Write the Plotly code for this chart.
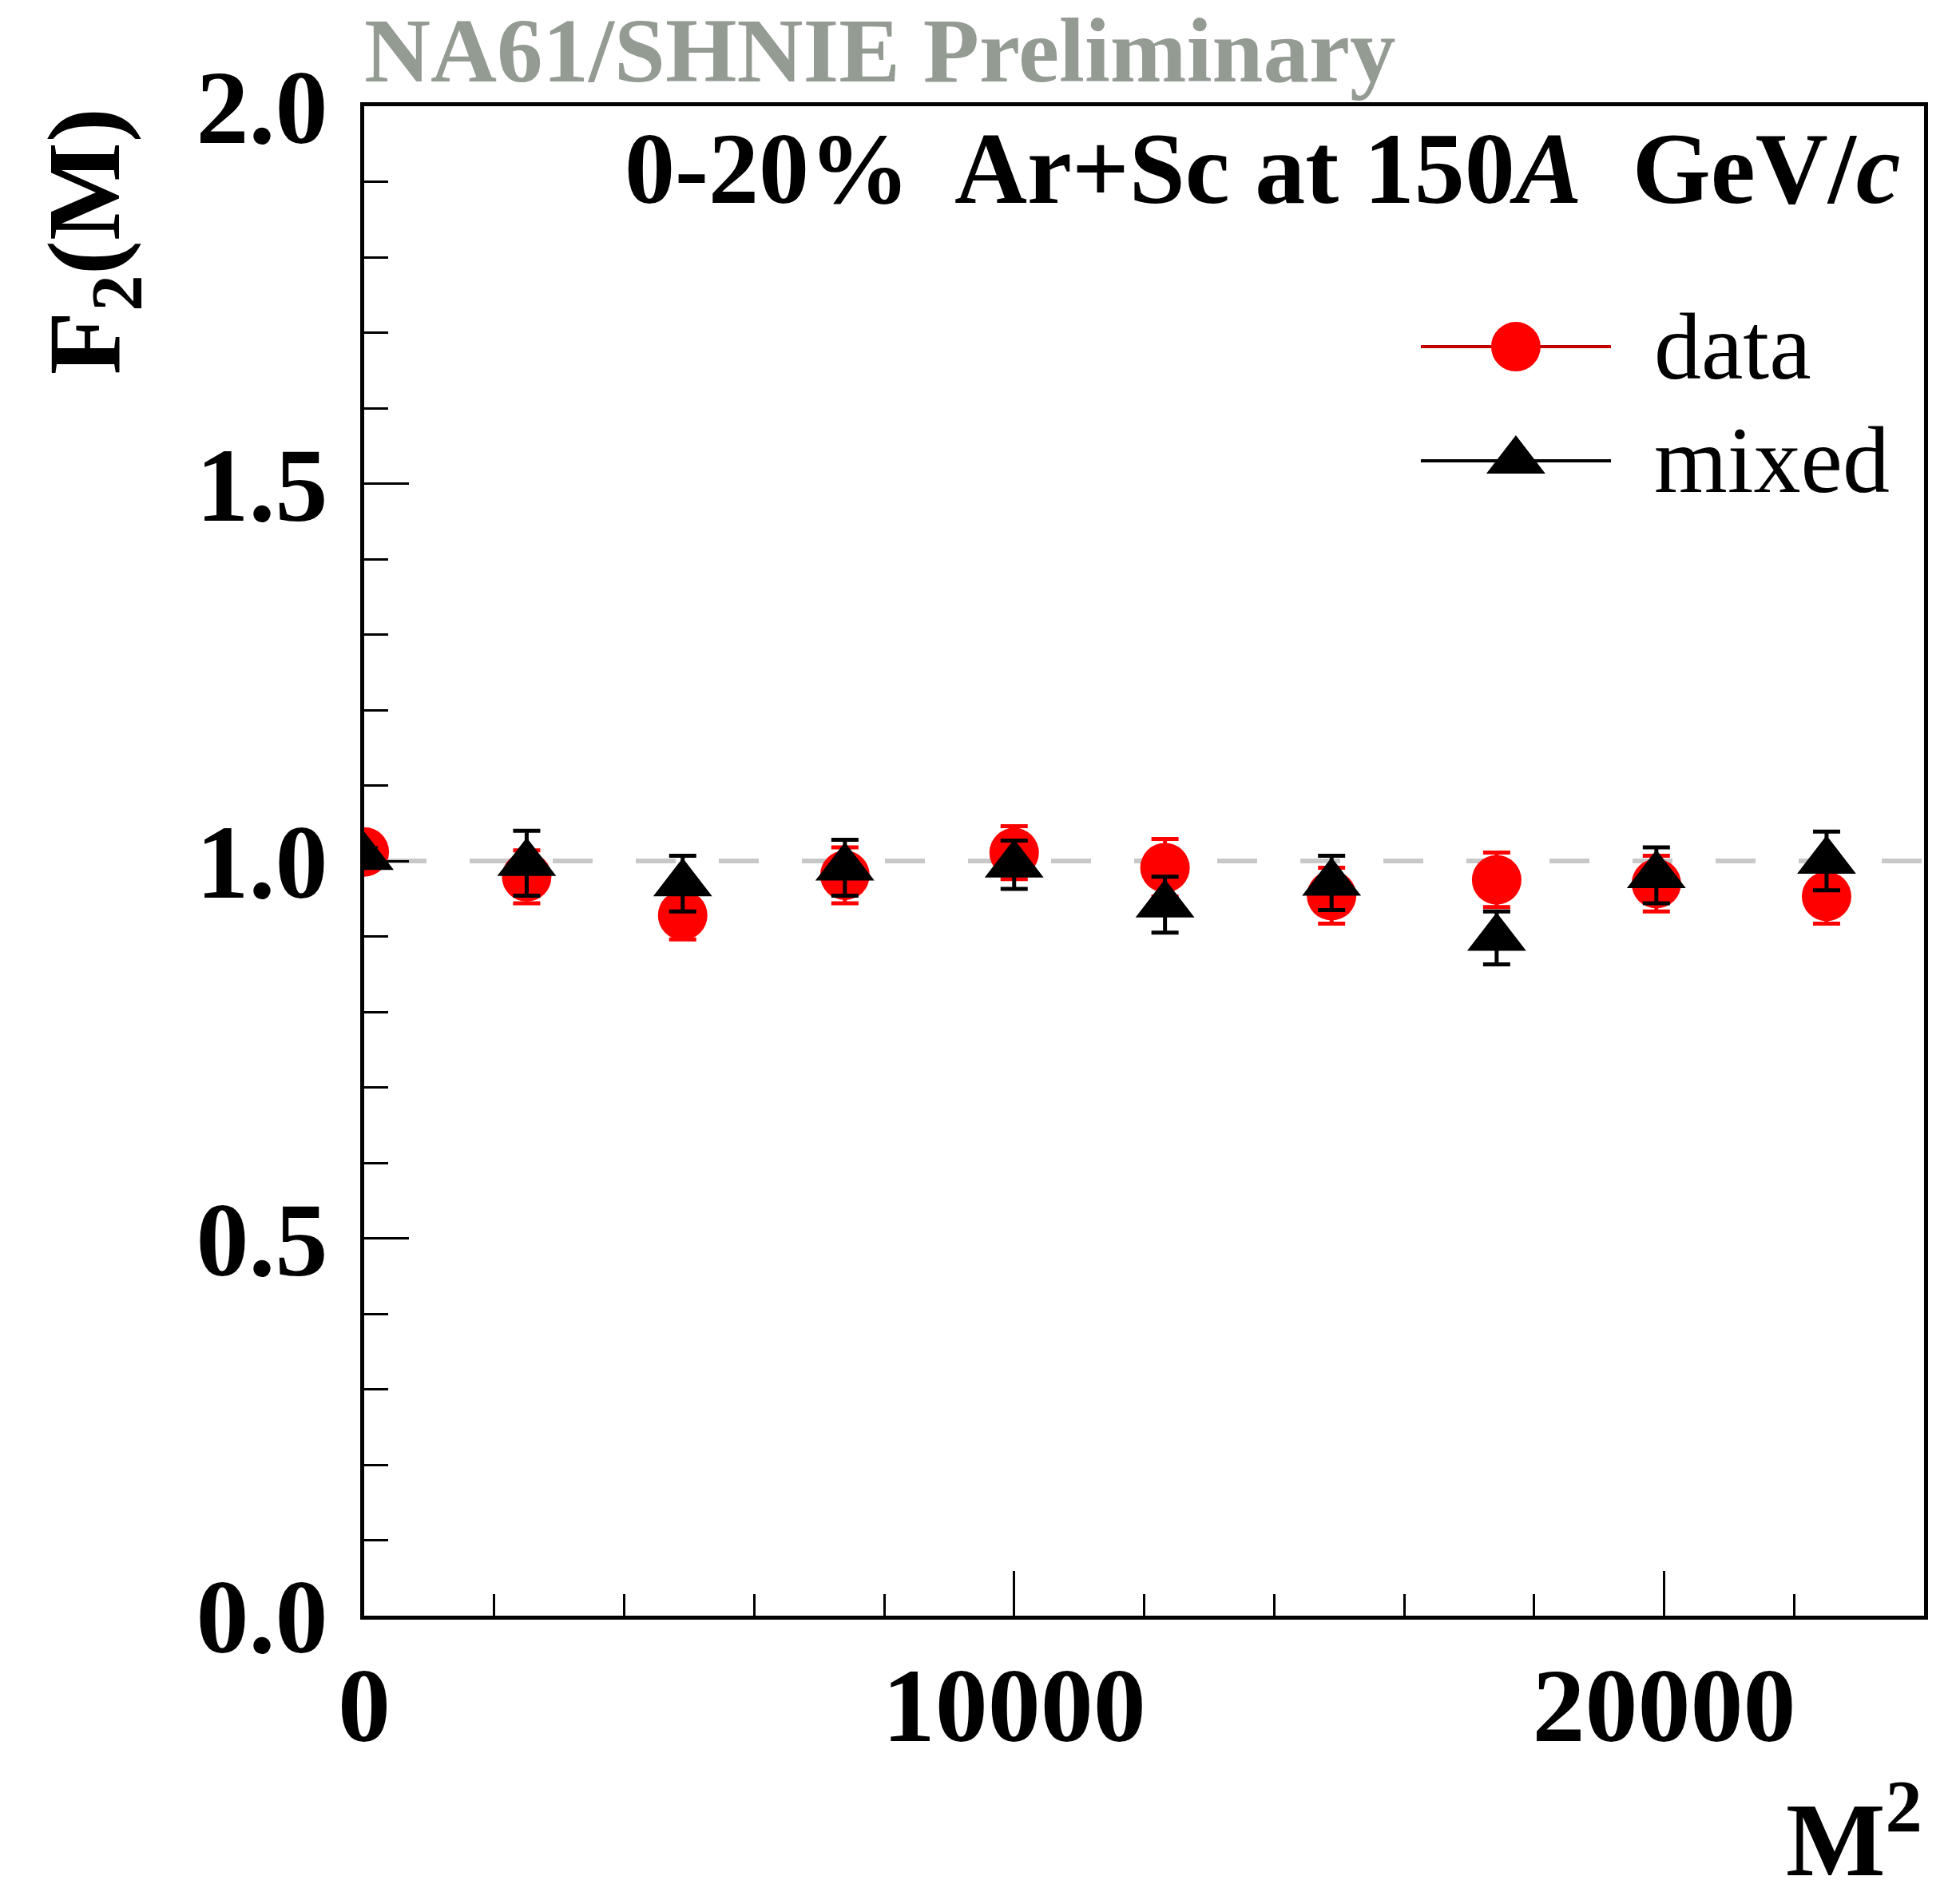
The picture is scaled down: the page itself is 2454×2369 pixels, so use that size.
import plotly.graph_objects as go

# ---- data ----
m2 = [1, 2500, 4900, 7396, 10000, 12321, 14884, 17424, 19881, 22500]
data_f2 = [1.012, 0.979, 0.928, 0.981, 1.011, 0.991, 0.954, 0.975, 0.970, 0.953]
data_err = [0.012, 0.035, 0.032, 0.037, 0.035, 0.038, 0.037, 0.036, 0.037, 0.036]
mixed_f2 = [1.005, 0.997, 0.970, 0.991, 0.995, 0.942, 0.971, 0.898, 0.981, 1.000]
mixed_err = [0.012, 0.043, 0.037, 0.037, 0.032, 0.037, 0.036, 0.035, 0.037, 0.039]

x_range = [0, 24000]
y_range = [0, 2.0]
x_tickvals = [0, 10000, 20000]
x_ticktext = ["0", "10000", "20000"]
y_tickvals = [0.0, 0.5, 1.0, 1.5, 2.0]
y_ticktext = ["0.0", "0.5", "1.0", "1.5", "2.0"]
reference_level = 1.0

legend_names = ["data", "mixed"]

W, H = 2454, 2369
L, R, T, B = 456, 45, 133, 346
FONT = "Liberation Serif"

fig = go.Figure()

fig.add_trace(go.Scatter(
    x=m2, y=data_f2, mode="markers", name="data",
    marker=dict(symbol="circle", size=62, color="#ff0000", opacity=1, line=dict(width=0)),
    error_y=dict(type="data", array=data_err, color="#ff0000", thickness=5, width=17),
    showlegend=False,
))
fig.add_trace(go.Scatter(
    x=m2, y=mixed_f2, mode="markers", name="mixed",
    marker=dict(symbol="triangle-up", size=64, color="#000000", opacity=1, line=dict(width=0)),
    error_y=dict(type="data", array=mixed_err, color="#000000", thickness=5, width=17),
    showlegend=False,
))

# legend key (manual, on an overlay axis in paper-like units)
leg_line_x = [0.6774, 0.7993]
leg_mark_x = [0.7383]
leg_y = [0.8407, 0.7651]
leg_line_colors = ["#c00000", "#000000"]
leg_mark_colors = ["#ff0000", "#000000"]
leg_symbols = ["circle", "triangle-up"]
leg_sizes = [62, 64]
for i in range(2):
    fig.add_trace(go.Scatter(
        x=leg_line_x, y=[leg_y[i]] * 2, xaxis="x2", yaxis="y2", mode="lines",
        line=dict(color=leg_line_colors[i], width=4),
        showlegend=False, hoverinfo="skip",
    ))
    fig.add_trace(go.Scatter(
        x=leg_mark_x, y=[leg_y[i]], xaxis="x2", yaxis="y2", mode="markers",
        marker=dict(symbol=leg_symbols[i], size=leg_sizes[i], color=leg_mark_colors[i], opacity=1),
        showlegend=False, hoverinfo="skip",
    ))

axis_common = dict(
    showline=True, linecolor="black", linewidth=5, mirror=True,
    ticks="inside", tickcolor="black", tickwidth=3,
    showgrid=False, zeroline=False,
    tickfont=dict(family=FONT, size=132, color="black", weight="bold"),
)

fig.update_layout(
    width=W, height=H,
    margin=dict(l=L, r=R, t=T, b=B, pad=0),
    paper_bgcolor="white", plot_bgcolor="white",
    xaxis=dict(
        range=x_range, tickmode="array", tickvals=x_tickvals, ticktext=x_ticktext,
        ticklen=56, ticklabelstandoff=-6,
        minor=dict(dtick=2000, ticklen=27, tickwidth=3, tickcolor="black", ticks="inside", showgrid=False),
        **axis_common,
    ),
    yaxis=dict(
        range=y_range, tickmode="array", tickvals=y_tickvals, ticktext=y_ticktext,
        ticklen=56, ticklabelstandoff=14,
        minor=dict(dtick=0.1, ticklen=30, tickwidth=3, tickcolor="black", ticks="inside", showgrid=False),
        **axis_common,
    ),
    xaxis2=dict(overlaying="x", range=[0, 1], visible=False, fixedrange=True),
    yaxis2=dict(overlaying="y", range=[0, 1], visible=False, fixedrange=True),
    shapes=[dict(
        type="line", xref="x", yref="y", x0=x_range[0], x1=x_range[1],
        y0=reference_level, y1=reference_level, layer="below",
        line=dict(color="#c8c8c8", width=6, dash="0px,28px,50px,26px"),
    )],
    annotations=[
        dict(text="<b>NA61/SHNIE Preliminary</b>", xref="paper", yref="paper",
             x=-0.001, y=1.0, xanchor="left", yanchor="bottom", yshift=4, showarrow=False,
             font=dict(family=FONT, size=115, color="#939b93")),
        dict(text="<b>0-20%  Ar+Sc at 150<i>A</i>  GeV/<i>c</i></b>", xref="paper", yref="paper",
             x=0.986, y=0.9587, xanchor="right", yanchor="middle", showarrow=False,
             font=dict(family=FONT, size=126, color="black")),
        dict(text="<b>F<sub>2</sub>(M)</b>", xref="paper", yref="paper",
             x=-0.175, y=1.0, xanchor="center", yanchor="top", textangle=-90, showarrow=False,
             font=dict(family=FONT, size=130, color="black")),
        dict(text="<b>M<sup>2</sup></b>", xref="paper", yref="paper",
             x=1.0, y=-0.151, xanchor="right", yanchor="middle", yshift=14, showarrow=False,
             font=dict(family=FONT, size=132, color="black")),
        dict(text=legend_names[0], xref="paper", yref="paper",
             x=0.8257, y=leg_y[0], xanchor="left", yanchor="middle", showarrow=False,
             font=dict(family=FONT, size=118, color="black")),
        dict(text=legend_names[1], xref="paper", yref="paper",
             x=0.8257, y=leg_y[1], xanchor="left", yanchor="middle", showarrow=False,
             font=dict(family=FONT, size=118, color="black")),
    ],
)

fig.write_html("out.html")
